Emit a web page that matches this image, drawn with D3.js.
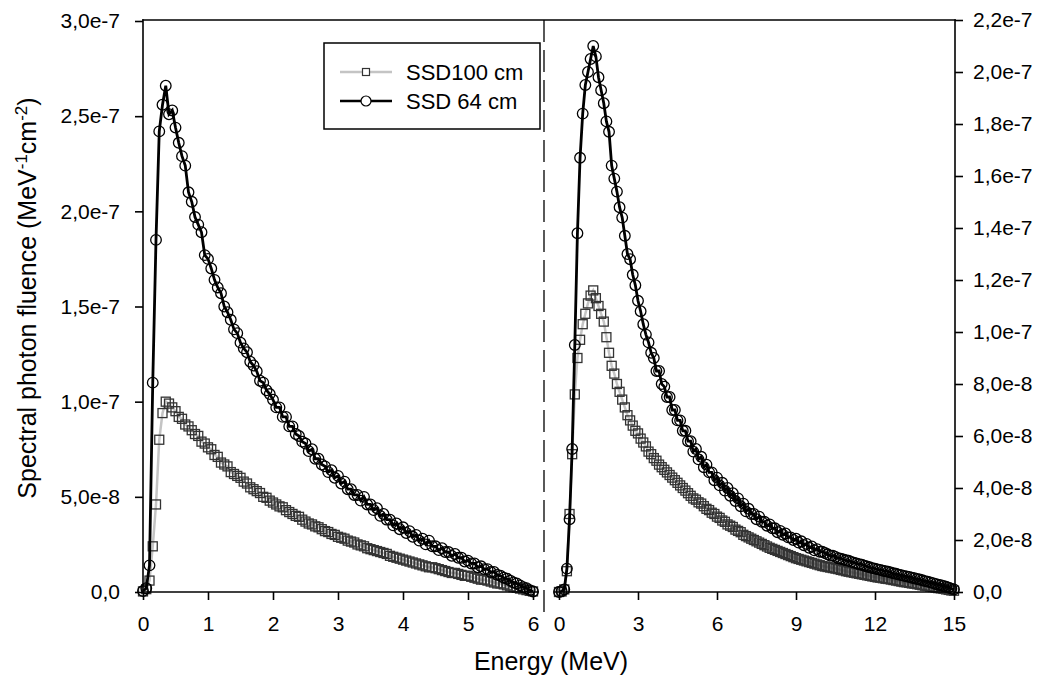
<!DOCTYPE html>
<html>
<head>
<meta charset="UTF-8" />
<title>Spectral photon fluence</title>
<script src="https://d3js.org/d3.v7.min.js"></script>
<style>
  body { margin: 0; background: #fff; }
  text { font-family: "Liberation Sans", Arial, sans-serif; fill: #000; }
</style>
</head>
<body>
<div id="main"></div>
<script>
// values in units of 1e-9 MeV^-1 cm^-2
var unit = 1e-9;
var leftStep = 0.05;   // MeV per bin, 0..6 MeV
var rightStep = 0.1;   // MeV per bin, 0..15 MeV

var left100 = [0.3,1.5,6,24,46,80,94,100,99,97,
  95,92,91,88,87,85,83,82,79,78,
  76,75,72,71,68,67,66,63,62,61,
  60,58,57,55,54,53,52,50,49.5,48,
  47,46,45,44.5,43,42,41,40,39.5,38,
  37,36,35.5,34.5,34,33,32,31.5,30.5,30,
  29,28.5,28,27,26.5,26,25,24.5,24,23,
  22.5,22,21.5,21,20.5,20,19,18.5,18,17.5,
  17,16.5,16,15.5,15,14.5,14,13.5,13,13,
  12.5,12,11.5,11,10.5,10,10,9.5,9,8.5,
  8.5,8,7.5,7,6.5,6.5,6,5.5,5,4.5,
  4.5,4,3.5,3,2.5,2.2,1.8,1.4,1,0.6,0.3];

var left64 = [0.5,2,14,110,185,242,256,266,251,253,
  244,236,229,224,210,205,197,193,189,177,
  175,170,164,160,157,150,147,143,138,136,
  131,128,126,121,119,116,111,110,106,104,
  101,97,97,92,92,87,87,83,82,79,
  78,74,75,70,70,67,66,63,64,60,
  61,57,58,54,54,51,51,48,50,46,
  46,43,44,40,41,38,38,35,36,33,
  34,31,32,29,30,27,28,25,27,24,
  24,22,23,21,21,19,20,18,18,16,
  16.5,15,15,13,13.5,12,12,10.5,10.5,9,
  8.5,7.5,7,6,5,4.5,3.5,2.5,2,1,0.3];

var right100 = [0,0.2,1,8,30,53,76,90,97,103,
  107,111,114,116,113,110,107,104,98,92,
  87,84,80,77,74,71,68,66,64,62,
  61,59,57.5,56,54,53,51.5,50.5,49,48,
  47,46,45,44,43,42,41,40,39,38,
  37,36,35.5,34.5,34,33,32,31.5,30.5,30,
  29,28.5,27.5,27,26,25.5,25,24,23.5,23,
  22,21.5,21,20.5,20,19.5,19,18.5,18,17.5,
  17,16.6,16.2,15.8,15.4,15,14.6,14.2,13.8,13.4,
  13,12.7,12.4,12.1,11.8,11.5,11.2,10.9,10.6,10.3,
  10,9.8,9.6,9.4,9.2,9,8.8,8.5,8.3,8,
  7.8,7.6,7.4,7.2,7,6.8,6.6,6.4,6.2,6,
  5.8,5.6,5.5,5.3,5.1,5,4.8,4.6,4.4,4.2,
  4,3.8,3.7,3.5,3.3,3.2,3,2.8,2.6,2.4,
  2.3,2.1,1.9,1.7,1.5,1.4,1.2,1,0.8,0.6,0.5];

var right64 = [0,0.3,1,9,28,55,95,138,167,184,
  195,200,205,210,206,198,193,188,181,177,
  164,159,154,148,144,137,130,128,122,118,
  112,108,103,99,96,92,90,85,85,80,
  79,75,75,70,70,66,66,62,62,58,
  58,54,55,51,52,48,49,46,46,43,
  44,41,42,39,40,37,38,35,36,33,
  34,31,32,30,30,28,29,27,27,25.5,
  26,24.5,24.5,23,23.5,22,22.5,21,21,20,
  20.5,19,19.5,18,18.5,17,17.5,16,16.5,15.5,
  15.5,15,14.5,14,14,13.5,13,12.8,12.5,12.2,
  12,11.6,11.3,11,10.7,10.5,10.1,9.8,9.5,9.2,
  9,8.7,8.5,8.2,8,7.8,7.5,7.2,7,6.7,
  6.5,6.2,6,5.8,5.5,5.3,5,4.8,4.5,4.2,
  4,3.7,3.4,3.1,2.8,2.6,2.3,2,1.7,1.3,1];

var seriesNames = ["SSD100 cm", "SSD 64 cm"];
var leftXTicks = [0, 1, 2, 3, 4, 5, 6];
var rightXTicks = [0, 3, 6, 9, 12, 15];
var leftYTicks = [0, 0.5e-7, 1.0e-7, 1.5e-7, 2.0e-7, 2.5e-7, 3.0e-7];
var rightYTicks = [0, 2e-8, 4e-8, 6e-8, 8e-8, 1.0e-7, 1.2e-7, 1.4e-7, 1.6e-7, 1.8e-7, 2.0e-7, 2.2e-7];

var width = 1042, height = 677;

var svg = d3.select('#main')
  .append('svg')
  .attr('width', width)
  .attr('height', height);

var xLeft = d3.scaleLinear().domain([0, 6]).range([143, 533]);
var xRight = d3.scaleLinear().domain([0, 15]).range([559, 954]);
var yLeft = d3.scaleLinear().domain([0, 3e-7]).range([592, 21]);
var yRight = d3.scaleLinear().domain([0, 2.2e-7]).range([592, 20]);

function fmt(v) {
  return v === 0 ? '0,0' : v.toExponential(1).replace('.', ',');
}

function toPts(vals, step) {
  return vals.map(function(v, i) { return { e: i * step, v: v * unit }; });
}

// curves
function drawSeries(vals, step, x, y, kind) {
  var pts = toPts(vals, step);
  var g = svg.append('g');
  var line = d3.line().x(function(d) { return x(d.e); }).y(function(d) { return y(d.v); });
  g.append('path')
    .datum(pts)
    .attr('d', line)
    .attr('fill', 'none')
    .attr('stroke', kind === 'sq' ? '#c4c4c4' : '#000')
    .attr('stroke-width', kind === 'sq' ? 2.5 : 2.8);
  if (kind === 'sq') {
    g.selectAll('rect').data(pts).enter().append('rect')
      .attr('x', function(d) { return x(d.e) - 4.5; })
      .attr('y', function(d) { return y(d.v) - 4.5; })
      .attr('width', 9).attr('height', 9)
      .attr('fill', 'none')
      .attr('stroke', '#333')
      .attr('stroke-width', 1.3);
  } else {
    g.selectAll('circle').data(pts).enter().append('circle')
      .attr('cx', function(d) { return x(d.e); })
      .attr('cy', function(d) { return y(d.v); })
      .attr('r', 5.3)
      .attr('fill', 'none')
      .attr('stroke', '#000')
      .attr('stroke-width', 1.3);
  }
}

drawSeries(left100, leftStep, xLeft, yLeft, 'sq');
drawSeries(left64, leftStep, xLeft, yLeft, 'ci');
drawSeries(right100, rightStep, xRight, yRight, 'sq');
drawSeries(right64, rightStep, xRight, yRight, 'ci');

// axes
function styleAxis(g) {
  g.select('.domain').remove();
  g.selectAll('line').attr('stroke', '#000').attr('stroke-width', 1.6);
  g.selectAll('text').style('font-size', '21px').style('font-family', '"Liberation Sans", Arial, sans-serif');
}

svg.append('g').attr('transform', 'translate(143,0)')
  .call(d3.axisLeft(yLeft).tickValues(leftYTicks).tickFormat(fmt).tickSize(8).tickPadding(15))
  .call(styleAxis);

svg.append('g').attr('transform', 'translate(955,0)')
  .call(d3.axisRight(yRight).tickValues(rightYTicks).tickFormat(fmt).tickSize(8).tickPadding(10))
  .call(styleAxis);

svg.append('g').attr('transform', 'translate(0,592)')
  .call(d3.axisBottom(xLeft).tickValues(leftXTicks).tickFormat(d3.format('d')).tickSize(8).tickPadding(16))
  .call(styleAxis);

svg.append('g').attr('transform', 'translate(0,592)')
  .call(d3.axisBottom(xRight).tickValues(rightXTicks).tickFormat(d3.format('d')).tickSize(8).tickPadding(16))
  .call(styleAxis);

// frame
var frame = [
  [143, 20, 955, 20],
  [143, 20, 143, 592],
  [955, 20, 955, 592],
  [143, 592, 538, 592],
  [555, 592, 955, 592]
];
svg.append('g').selectAll('line').data(frame).enter().append('line')
  .attr('x1', function(d) { return d[0]; })
  .attr('y1', function(d) { return d[1]; })
  .attr('x2', function(d) { return d[2]; })
  .attr('y2', function(d) { return d[3]; })
  .attr('stroke', '#000')
  .attr('stroke-width', 1.6)
  .attr('stroke-linecap', 'square');

// break between panels
svg.append('line')
  .attr('x1', 544).attr('x2', 544)
  .attr('y1', 20).attr('y2', 616)
  .attr('stroke', '#000')
  .attr('stroke-width', 1.3)
  .attr('stroke-dasharray', '22,8');

// titles
svg.append('text')
  .attr('x', 551).attr('y', 670)
  .attr('text-anchor', 'middle')
  .style('font-size', '25px')
  .text('Energy (MeV)');

var yt = svg.append('text')
  .attr('transform', 'translate(36,298) rotate(-90)')
  .attr('text-anchor', 'middle')
  .style('font-size', '25px');
yt.append('tspan').text('Spectral photon fluence (MeV');
yt.append('tspan').attr('baseline-shift', 'super').style('font-size', '17px').text('-1');
yt.append('tspan').text('cm');
yt.append('tspan').attr('baseline-shift', 'super').style('font-size', '17px').text('-2');
yt.append('tspan').text(')');

// legend
var lg = svg.append('g');
lg.append('rect')
  .attr('x', 324).attr('y', 43).attr('width', 216).attr('height', 86)
  .attr('fill', '#fff').attr('stroke', '#000').attr('stroke-width', 1.5);

var rows = lg.selectAll('g.row').data(seriesNames).enter().append('g')
  .attr('class', 'row')
  .attr('transform', function(d, i) { return 'translate(0,' + (72 + i * 29) + ')'; });

rows.append('line')
  .attr('x1', 340).attr('x2', 392).attr('y1', 0).attr('y2', 0)
  .attr('stroke', function(d, i) { return i === 0 ? '#c4c4c4' : '#000'; })
  .attr('stroke-width', 2.5);

rows.filter(function(d, i) { return i === 0; }).append('rect')
  .attr('x', 362.5).attr('y', -3.5).attr('width', 7).attr('height', 7)
  .attr('fill', '#fff').attr('stroke', '#333').attr('stroke-width', 1.2);

rows.filter(function(d, i) { return i === 1; }).append('circle')
  .attr('cx', 366).attr('cy', 0).attr('r', 5)
  .attr('fill', '#fff').attr('stroke', '#000').attr('stroke-width', 1.2);

rows.append('text')
  .attr('x', 406).attr('y', 8)
  .style('font-size', '22px')
  .text(function(d) { return d; });
</script>
</body>
</html>
